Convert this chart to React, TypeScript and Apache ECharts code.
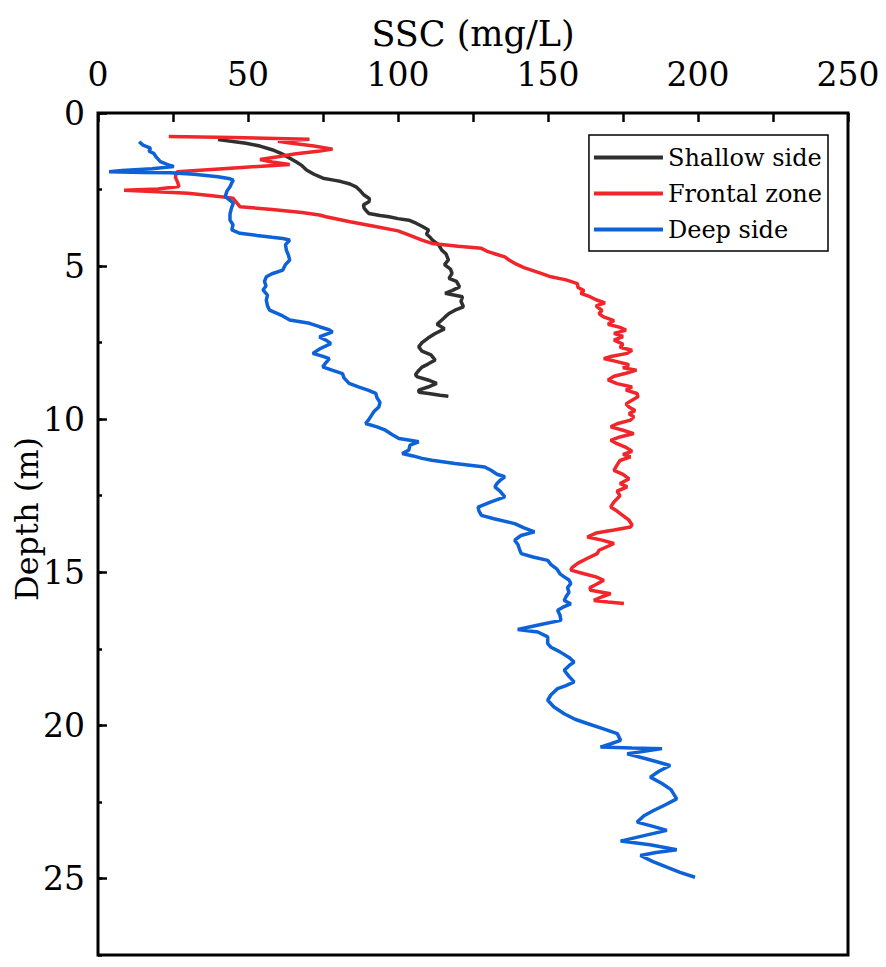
import React, { useEffect, useRef } from "react";
import * as echarts from "echarts";

const seriesNames = ["Shallow side", "Frontal zone", "Deep side"];
const seriesColors = ["#303030", "#f0262a", "#0d62d8"];

const shallowDepth = [0.87, 0.93, 0.99, 1.08, 1.2, 1.32, 1.45, 1.59, 1.72, 1.86, 2.0, 2.13, 2.2, 2.24, 2.32, 2.41, 2.55, 2.68, 2.8, 2.9, 3.0, 3.11, 3.2, 3.28, 3.35, 3.39, 3.45, 3.5, 3.6, 3.7, 3.82, 3.95, 4.04, 4.15, 4.3, 4.48, 4.6, 4.8, 4.95, 5.1, 5.24, 5.4, 5.5, 5.68, 5.8, 5.89, 5.95, 6.0, 6.15, 6.33, 6.44, 6.55, 6.66, 6.76, 6.9, 7.05, 7.2, 7.35, 7.5, 7.64, 7.78, 7.9, 8.07, 8.2, 8.3, 8.4, 8.55, 8.62, 8.72, 8.83, 8.95, 9.05, 9.12, 9.16, 9.22, 9.25];
const shallowSSC = [40, 45, 49.3, 54, 58, 61, 63.5, 66, 68, 69.5, 72, 75, 79, 81, 84, 86, 87.5, 88.7, 90.5, 90.3, 88.5, 88.7, 89.5, 90.3, 94, 97, 100, 103.6, 106, 108, 110.2, 109.5, 110.5, 111.5, 113.5, 114.6, 116, 116.8, 115.5, 117.5, 118, 117, 119.5, 120.5, 118, 115.7, 119, 121.5, 121, 121.8, 119, 117, 115.7, 114.6, 113, 115.5, 112.4, 110, 108, 106.9, 108, 111, 112.4, 110, 108, 107, 105.8, 106.5, 110, 112.9, 110, 106.9, 107, 110.2, 114, 116.8];

const frontalDepth = [0.77, 0.8, 0.86, 0.92, 0.98, 1.08, 1.18, 1.24, 1.33, 1.43, 1.52, 1.6, 1.68, 1.78, 1.87, 1.92, 2.0, 2.1, 2.25, 2.4, 2.48, 2.52, 2.56, 2.62, 2.7, 2.78, 2.9, 3.06, 3.15, 3.25, 3.33, 3.39, 3.55, 3.7, 3.85, 4.0, 4.15, 4.26, 4.35, 4.42, 4.53, 4.62, 4.7, 4.8, 4.91, 5.05, 5.24, 5.35, 5.45, 5.57, 5.7, 5.8, 5.89, 6.0, 6.1, 6.2, 6.3, 6.45, 6.55, 6.66, 6.78, 6.9, 7.0, 7.09, 7.2, 7.3, 7.42, 7.55, 7.65, 7.75, 7.85, 7.95, 8.02, 8.12, 8.22, 8.32, 8.4, 8.5, 8.6, 8.72, 8.84, 8.95, 9.05, 9.16, 9.27, 9.38, 9.5, 9.6, 9.72, 9.82, 9.92, 10.03, 10.15, 10.25, 10.36, 10.47, 10.58, 10.69, 10.8, 10.92, 11.05, 11.15, 11.23, 11.35, 11.5, 11.67, 11.8, 11.95, 12.1, 12.21, 12.35, 12.5, 12.7, 12.87, 13.0, 13.15, 13.3, 13.45, 13.52, 13.62, 13.72, 13.85, 13.95, 14.06, 14.15, 14.28, 14.39, 14.55, 14.7, 14.85, 14.93, 15.05, 15.15, 15.26, 15.4, 15.5, 15.59, 15.65, 15.7, 15.8, 15.92, 15.97, 16.02];
const frontalSSC = [23.6, 45, 70.5, 60, 64, 72, 78.2, 74, 66, 60, 54, 58, 63.9, 48, 34, 26.4, 26, 25.8, 26.5, 27, 20, 8.7, 18, 30, 38, 45, 46, 47.3, 58, 68, 73.8, 76, 84, 92, 100, 104, 108, 111.3, 120, 127.8, 130, 133, 135.6, 137, 138.9, 142, 147.7, 151, 156, 159.8, 160, 162, 160.9, 164, 166, 169, 166, 168, 167, 168.5, 172, 170, 174, 176, 172, 175, 172, 175, 174, 178, 176.4, 171, 168.6, 173, 177, 175, 179.5, 176, 172, 170, 173, 178, 176, 179.7, 180, 178, 176, 177, 179, 177, 178.6, 177.5, 173, 170.9, 175, 178.6, 174, 170.9, 173, 176, 178, 175, 177.5, 174, 173, 172, 175, 177, 174, 176.4, 173, 174, 172, 170.9, 173, 175, 177, 178, 177.5, 172, 166, 163.1, 168, 172, 170, 167, 166.4, 163, 160, 158, 157.6, 162, 166, 168.6, 166, 164, 164.2, 168, 170.9, 168, 165.3, 170, 175.3];

const deepDepth = [0.94, 1.05, 1.15, 1.25, 1.32, 1.45, 1.59, 1.68, 1.75, 1.82, 1.88, 1.92, 1.94, 1.95, 2.0, 2.08, 2.15, 2.19, 2.3, 2.41, 2.55, 2.73, 2.85, 2.95, 3.1, 3.3, 3.5, 3.65, 3.82, 3.93, 4.0, 4.06, 4.1, 4.15, 4.3, 4.48, 4.65, 4.8, 4.95, 5.13, 5.25, 5.35, 5.5, 5.65, 5.78, 5.95, 6.11, 6.3, 6.44, 6.6, 6.76, 6.87, 6.98, 7.08, 7.15, 7.31, 7.42, 7.53, 7.7, 7.85, 7.95, 8.02, 8.15, 8.29, 8.4, 8.51, 8.65, 8.83, 8.95, 9.05, 9.16, 9.3, 9.45, 9.6, 9.75, 9.9, 10.05, 10.14, 10.25, 10.36, 10.5, 10.63, 10.69, 10.74, 10.85, 11.01, 11.12, 11.2, 11.28, 11.34, 11.45, 11.56, 11.67, 11.8, 11.88, 12.0, 12.1, 12.21, 12.35, 12.54, 12.7, 12.87, 13.0, 13.14, 13.25, 13.41, 13.55, 13.68, 13.8, 13.95, 14.1, 14.25, 14.39, 14.5, 14.61, 14.75, 14.9, 15.05, 15.15, 15.25, 15.37, 15.5, 15.65, 15.8, 15.92, 16.03, 16.14, 16.24, 16.4, 16.57, 16.7, 16.87, 16.95, 17.11, 17.33, 17.45, 17.6, 17.78, 17.93, 18.05, 18.2, 18.4, 18.58, 18.7, 18.8, 19.0, 19.18, 19.4, 19.62, 19.8, 19.94, 20.1, 20.27, 20.49, 20.6, 20.71, 20.74, 20.76, 20.85, 20.93, 21.1, 21.31, 21.5, 21.69, 21.9, 22.1, 22.4, 22.6, 22.78, 22.95, 23.16, 23.3, 23.43, 23.6, 23.78, 23.9, 24.06, 24.15, 24.25, 24.45, 24.63, 24.8, 24.96];
const deepSSC = [13.7, 15, 17.5, 17, 18.6, 19.5, 20.8, 23, 25.3, 18, 8, 3.7, 15, 24.2, 32, 40, 44, 45.1, 44.5, 44, 43, 42.4, 44, 45.1, 44.5, 44, 44, 45, 44.6, 47.3, 53, 58, 61.6, 63.9, 62.5, 62.8, 63.5, 63.9, 62.5, 61.6, 58, 56.1, 55.5, 56, 55, 56.5, 56.1, 56.5, 57.2, 61, 63.9, 70.5, 73.8, 77, 78.2, 73.8, 76, 77.6, 74, 71.6, 75, 77.1, 76, 74.9, 78, 81.5, 82, 83.7, 87, 90, 92.6, 93, 94, 93.6, 92, 91, 90, 89.2, 93, 95.8, 98, 100.3, 104, 106.9, 104, 103.6, 101.4, 105, 108, 111.3, 119, 128.9, 131, 133, 135.6, 134, 133, 132.3, 134, 135.6, 131, 126.7, 127, 127.8, 132, 138.9, 142, 145.5, 141, 138.9, 140, 140.5, 141.1, 145, 149.9, 151, 153, 154, 155.4, 157, 157.6, 156.5, 157, 156, 155.4, 157.6, 155, 153.2, 154, 154.3, 148, 139.9, 146.6, 149.9, 149.9, 151, 154, 157, 158.7, 157, 155.4, 157, 158.7, 156, 153.2, 151, 149.9, 152, 155.4, 159, 163.1, 168, 173.1, 174.2, 171, 167.5, 178, 188, 182, 176.4, 183, 190.7, 187, 184.1, 188, 191, 192.9, 189, 185.2, 182, 179.7, 185, 189.6, 182, 174.2, 184, 192.9, 186, 180.8, 185, 189.6, 194, 199];

const FONT = "DejaVu Serif";

function zip(xs: number[], ys: number[]) {
  return xs.map((x, i) => [x, ys[i]]);
}

export default function App() {
  const ref = useRef<HTMLDivElement>(null);
  useEffect(() => {
    if (!ref.current) return;
    const chart = echarts.init(ref.current, undefined, { renderer: "svg" });
    const tickStyle = { color: "#000", width: 2.5 };
    const lines = [
      zip(shallowSSC, shallowDepth),
      zip(frontalSSC, frontalDepth),
      zip(deepSSC, deepDepth),
    ];
    chart.setOption({
      animation: false,
      backgroundColor: "#fff",
      textStyle: { fontFamily: FONT },
      grid: {
        left: 98,
        right: 38,
        top: 113,
        bottom: 12,
        outerBoundsMode: "none",
        containLabel: false,
        show: true,
        borderColor: "#000",
        borderWidth: 3,
        backgroundColor: "transparent",
        z: 10,
      },
      legend: {
        orient: "vertical",
        right: 58,
        top: 135,
        icon: "rect",
        itemWidth: 69,
        itemHeight: 4,
        itemGap: 11,
        padding: [10, 6, 9, 5],
        borderColor: "#000",
        borderWidth: 1.5,
        borderRadius: 0,
        backgroundColor: "#fff",
        textStyle: { fontSize: 24, color: "#000", fontFamily: FONT, lineHeight: 25 },
        data: seriesNames,
      },
      xAxis: {
        type: "value",
        position: "top",
        min: 0,
        max: 250,
        interval: 50,
        name: "SSC (mg/L)",
        nameLocation: "middle",
        nameGap: 62,
        nameMoveOverlap: false,
        nameTextStyle: { fontSize: 35, color: "#000", fontFamily: FONT },
        axisLine: { show: false },
        axisTick: { show: true, inside: true, length: 9, lineStyle: tickStyle },
        minorTick: { show: true, splitNumber: 2, length: 9, lineStyle: tickStyle },
        axisLabel: { fontSize: 33, color: "#000", margin: 22, fontFamily: FONT },
        splitLine: { show: false },
        minorSplitLine: { show: false },
      },
      yAxis: [
        {
          type: "value",
          inverse: true,
          position: "left",
          min: 0,
          max: 27.5,
          interval: 5,
          name: "Depth (m)",
          nameLocation: "middle",
          nameGap: 55,
          nameMoveOverlap: false,
          nameTextStyle: { fontSize: 32, color: "#000", fontFamily: FONT, padding: [0, 0, 0, 30] },
          axisLine: { show: false },
          axisTick: { show: true, inside: true, length: 9, lineStyle: tickStyle },
          axisLabel: { fontSize: 33, color: "#000", margin: 13, showMaxLabel: false, fontFamily: FONT },
          splitLine: { show: false },
        },
        {
          type: "value",
          inverse: true,
          position: "left",
          min: 0,
          max: 27.5,
          interval: 2.5,
          axisLine: { show: false },
          axisTick: { show: true, inside: true, length: 4, lineStyle: tickStyle },
          axisLabel: { show: false },
          splitLine: { show: false },
        },
      ],
      series: seriesNames.map((name, i) => ({
        name,
        type: "line",
        yAxisIndex: 0,
        data: lines[i],
        symbol: "none",
        showSymbol: false,
        smooth: false,
        lineStyle: { width: 3.5, color: seriesColors[i] },
        itemStyle: { color: seriesColors[i] },
      })),
    });
    return () => chart.dispose();
  }, []);
  return (
    <div
      ref={ref}
      style={{ position: "absolute", left: 0, top: 0, width: 886, height: 967 }}
    />
  );
}
